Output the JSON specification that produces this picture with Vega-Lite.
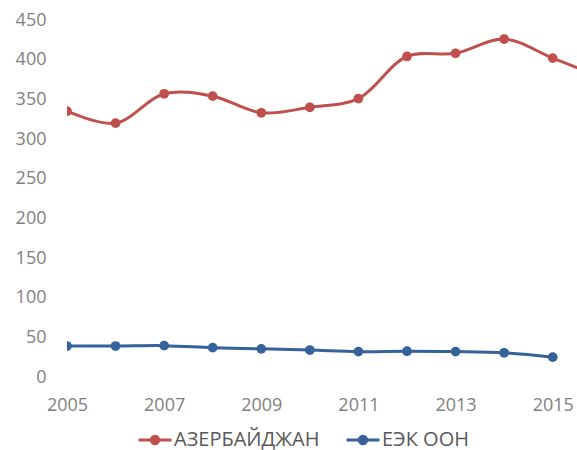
{
  "$schema": "https://vega.github.io/schema/vega-lite/v6.json",
  "width": 510,
  "height": 357,
  "autosize": "none",
  "padding": {"left": 67, "top": 20, "right": 0, "bottom": 73},
  "background": "white",
  "config": {"view": {"stroke": null}, "font": "Open Sans"},
  "data": {
    "values": [
      {"year": 2005, "series": "АЗЕРБАЙДЖАН", "value": 335},
      {"year": 2006, "series": "АЗЕРБАЙДЖАН", "value": 320},
      {"year": 2007, "series": "АЗЕРБАЙДЖАН", "value": 357},
      {"year": 2008, "series": "АЗЕРБАЙДЖАН", "value": 354},
      {"year": 2009, "series": "АЗЕРБАЙДЖАН", "value": 333},
      {"year": 2010, "series": "АЗЕРБАЙДЖАН", "value": 340},
      {"year": 2011, "series": "АЗЕРБАЙДЖАН", "value": 351},
      {"year": 2012, "series": "АЗЕРБАЙДЖАН", "value": 404},
      {"year": 2013, "series": "АЗЕРБАЙДЖАН", "value": 408},
      {"year": 2014, "series": "АЗЕРБАЙДЖАН", "value": 426},
      {"year": 2015, "series": "АЗЕРБАЙДЖАН", "value": 402},
      {"year": 2016, "series": "АЗЕРБАЙДЖАН", "value": 378},
      {"year": 2005, "series": "ЕЭК ООН", "value": 39},
      {"year": 2006, "series": "ЕЭК ООН", "value": 39},
      {"year": 2007, "series": "ЕЭК ООН", "value": 39.5},
      {"year": 2008, "series": "ЕЭК ООН", "value": 37},
      {"year": 2009, "series": "ЕЭК ООН", "value": 35.5},
      {"year": 2010, "series": "ЕЭК ООН", "value": 34},
      {"year": 2011, "series": "ЕЭК ООН", "value": 32},
      {"year": 2012, "series": "ЕЭК ООН", "value": 32.5},
      {"year": 2013, "series": "ЕЭК ООН", "value": 32},
      {"year": 2014, "series": "ЕЭК ООН", "value": 30.5},
      {"year": 2015, "series": "ЕЭК ООН", "value": 25}
    ]
  },
  "encoding": {
    "x": {
      "field": "year",
      "type": "quantitative",
      "scale": {"domain": [2005, 2015.5], "nice": false, "zero": false},
      "axis": {
        "title": null,
        "values": [2005, 2007, 2009, 2011, 2013, 2015],
        "format": "d",
        "domain": false,
        "ticks": false,
        "grid": false,
        "labelFontSize": 18,
        "labelColor": "#7f7f7f",
        "labelPadding": 19,
        "labelFlush": false,
        "labelOverlap": false
      }
    },
    "y": {
      "field": "value",
      "type": "quantitative",
      "scale": {"domain": [0, 450], "nice": false},
      "axis": {
        "title": null,
        "values": [0, 50, 100, 150, 200, 250, 300, 350, 400, 450],
        "domain": false,
        "ticks": false,
        "grid": false,
        "labelFontSize": 18,
        "labelColor": "#7f7f7f",
        "labelPadding": 21,
        "labelFlush": false,
        "labelOverlap": false
      }
    },
    "color": {
      "field": "series",
      "type": "nominal",
      "scale": {"domain": ["АЗЕРБАЙДЖАН", "ЕЭК ООН"], "range": ["#C0504D", "#35629B"]},
      "legend": {
        "title": null,
        "orient": "none",
        "direction": "horizontal",
        "legendX": 70,
        "legendY": 402,
        "padding": 0,
        "symbolType": "M-1,0H1M-0.22,0A0.22,0.22 0 1 0 0.22,0A0.22,0.22 0 1 0 -0.22,0Z",
        "symbolSize": 1089,
        "symbolStrokeWidth": 3,
        "labelFontSize": 20,
        "labelColor": "#595959",
        "labelOffset": 1,
        "columnPadding": 20,
        "encode": {
          "symbols": {
            "update": {
              "fill": {"scale": "color", "field": "value"},
              "stroke": {"scale": "color", "field": "value"},
              "opacity": {"value": 1}
            }
          }
        }
      }
    }
  },
  "layer": [
    {"mark": {"type": "line", "interpolate": "catmull-rom", "strokeWidth": 3, "clip": true}},
    {"mark": {"type": "point", "filled": true, "size": 95, "opacity": 1, "clip": true}}
  ]
}
